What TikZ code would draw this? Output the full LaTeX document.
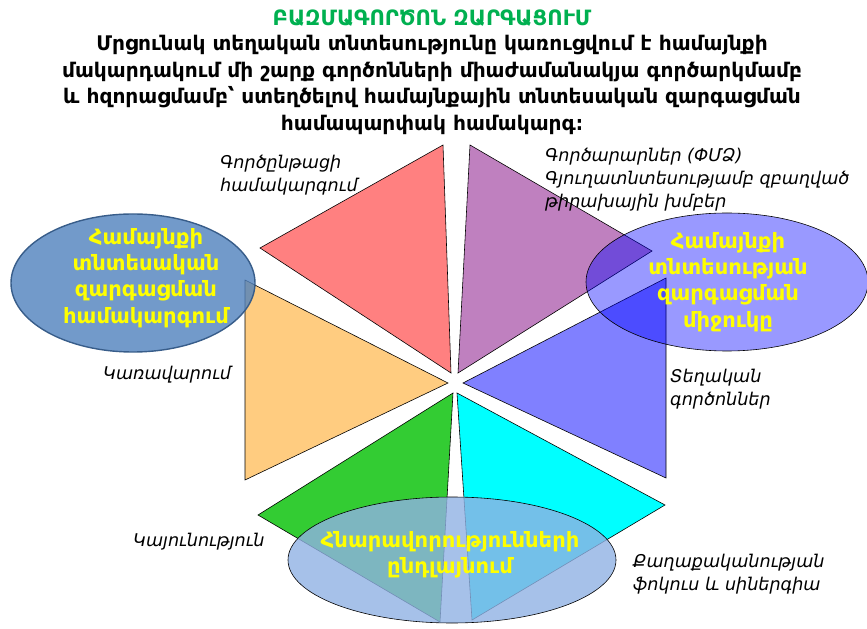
\documentclass[tikz,border=0pt]{standalone}
\usepackage{fontspec}
\setmainfont{DejaVu Sans}
\usepackage{tikz}

\definecolor{redtri}{RGB}{255,128,128}
\definecolor{purpletri}{RGB}{191,128,191}
\definecolor{bluetri}{RGB}{128,128,255}
\definecolor{orangetri}{RGB}{255,204,128}
\definecolor{greentri}{RGB}{51,204,51}
\definecolor{cyantri}{RGB}{0,255,255}
\definecolor{steelfill}{RGB}{79,129,189}
\definecolor{steeledge}{RGB}{56,93,138}
\definecolor{paleblue}{RGB}{144,177,228}
\definecolor{titlegreen}{RGB}{0,176,80}
\definecolor{yellowtxt}{RGB}{255,255,0}

\begin{document}
\begin{tikzpicture}[x=0.03cm,y=-0.03cm,
  tri/.style={draw=black,line width=0.5pt},
  lbl/.style={font=\fontsize{15}{19.5}\selectfont\itshape,align=left,inner sep=0pt},
  yel/.style={font=\fontsize{18}{22.5}\selectfont\bfseries,text=yellowtxt,align=center,inner sep=0pt}]
  \useasboundingbox (0,0) rectangle (867,629);

  % the six triangles
  \filldraw[tri,fill=redtri]
    (443,145) -- (260,248) -- (451,373) -- cycle;
  \filldraw[tri,fill=purpletri]
    (470,145) -- (652,251) -- (458,373) -- cycle;
  \filldraw[tri,fill=bluetri]
    (666,278) -- (666,478) -- (463,383) -- cycle;
  \filldraw[tri,fill=orangetri]
    (245,280) -- (245,480) -- (448,383) -- cycle;
  \filldraw[tri,fill=greentri]
    (453,393) -- (258,515) -- (440,622) -- cycle;
  \filldraw[tri,fill=cyantri]
    (457,393) -- (665,505) -- (472,620) -- cycle;

  % the three ellipses
  \filldraw[draw=steeledge,line width=1.2pt,fill=steelfill,fill opacity=0.8]
    (133,283) ellipse (122 and 69);
  \filldraw[draw=black,line width=0.5pt,fill=blue,fill opacity=0.4]
    (727,282) ellipse (141 and 69);
  \filldraw[draw=black,line width=0.5pt,fill=paleblue,fill opacity=0.8]
    (452,560) ellipse (164 and 63);

  % heading
  \node[font=\fontsize{18}{20}\selectfont\bfseries,text=titlegreen,inner sep=0pt]
    (title) at (432,18) {ԲԱԶՄԱԳՈՐԾՈՆ ԶԱՐԳԱՑՈՒՄ};
  \node[font=\fontsize{17.2}{22.6}\selectfont\bfseries,align=center,inner sep=0pt]
    (intro) at (432,85)
    {Մրցունակ տեղական տնտեսությունը կառուցվում է համայնքի\\
     մակարդակում մի շարք գործոնների միաժամանակյա գործարկմամբ\\
     և հզորացմամբ՝ ստեղծելով համայնքային տնտեսական զարգացման\\
     համապարփակ համակարգ։};

  % texts in the ellipses
  \node[yel] (core_left) at (146,278)
    {Համայնքի\\ տնտեսական\\ զարգացման\\ համակարգում};
  \node[yel] (core_right) at (728,282)
    {Համայնքի\\ տնտեսության\\ զարգացման\\ միջուկը};
  \node[yel] (core_bottom) at (450,555)
    {Հնարավորությունների\\ ընդլայնում};

  % factor labels
  \node[lbl,anchor=west] (process) at (220,175)
    {Գործընթացի\\ համակարգում};
  \node[lbl,anchor=west] (business) at (545,180)
    {Գործարարներ (ՓՄՁ)\\ Գյուղատնտեսությամբ զբաղված\\ թիրախային խմբեր};
  \node[lbl,anchor=west] (govern) at (103,375) {Կառավարում};
  \node[lbl,anchor=west] (local) at (670,389)
    {Տեղական\\ գործոններ};
  \node[lbl,anchor=west] (sustain) at (133,542) {Կայունություն};
  \node[lbl,anchor=west] (policy) at (633,574)
    {Քաղաքականության\\ ֆոկուս և սիներգիա};
\end{tikzpicture}
\end{document}
